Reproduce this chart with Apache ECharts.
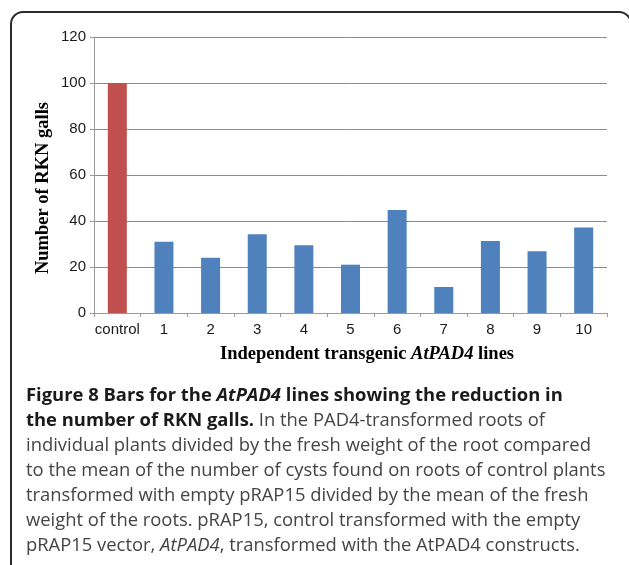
<!DOCTYPE html>
<html>
<head>
<meta charset="utf-8">
<script src="https://cdn.jsdelivr.net/npm/echarts@6/dist/echarts.min.js"></script>
<style>
	html, body { margin: 0; padding: 0; background: #fff; }
	#page { position: relative; width: 629px; height: 565px; overflow: hidden; }
	#frame {
		position: absolute; left: 10px; top: 11px; width: 618px; height: 600px;
		border: 2px solid #2b2b2b; border-radius: 13px;
	}
	#chart { position: absolute; left: 0; top: 0; width: 629px; height: 565px; }
	#caption {
		position: absolute; left: 26px; top: 381px;
		font-family: "Open Sans", sans-serif; font-size: 18.4px; line-height: 25px;
		color: #444; white-space: nowrap;
	}
	#caption b { color: #1a1a1a; }
</style>
</head>
<body>
<div id="page">
	<div id="frame"></div>
	<div id="chart"></div>
	<div id="caption">
		<b>Figure 8 Bars for the <i>AtPAD4</i> lines showing the reduction in</b><br>
		<b>the number of RKN galls.</b> In the PAD4-transformed roots of<br>
		individual plants divided by the fresh weight of the root compared<br>
		to the mean of the number of cysts found on roots of control plants<br>
		transformed with empty pRAP15 divided by the mean of the fresh<br>
		weight of the roots. pRAP15, control transformed with the empty<br>
		pRAP15 vector, <i>AtPAD4</i>, transformed with the AtPAD4 constructs.
	</div>
</div>
<script>
	const categories = ['control', '1', '2', '3', '4', '5', '6', '7', '8', '9', '10'];
	const galls = [100, 31, 24, 34.2, 29.5, 21, 44.8, 11.3, 31.3, 26.8, 37.2];
	const yMin = 0;
	const yMax = 120;
	const yStep = 20;

	const chart = echarts.init(document.getElementById('chart'));
	chart.setOption({
		animation: false,
		grid: { left: 94, right: 22, top: 37, bottom: 252 },
		xAxis: {
			type: 'category',
			data: categories,
			axisLine: { lineStyle: { color: '#9a9a9a', width: 1 } },
			axisTick: { show: true, interval: 0, length: 4, lineStyle: { color: '#9a9a9a' } },
			axisLabel: {
				interval: 0,
				margin: 9,
				fontFamily: 'Liberation Sans',
				fontSize: 15,
				color: '#1a1a1a'
			}
		},
		yAxis: {
			type: 'value',
			min: yMin,
			max: yMax,
			interval: yStep,
			axisLine: { show: true, lineStyle: { color: '#9a9a9a', width: 1 } },
			axisTick: { show: true, length: 4, lineStyle: { color: '#9a9a9a' } },
			splitLine: { lineStyle: { color: '#8c8c8c', width: 1 } },
			axisLabel: {
				margin: 8,
				fontFamily: 'Liberation Sans',
				fontSize: 15,
				color: '#1a1a1a'
			}
		},
		series: [{
			type: 'bar',
			data: galls,
			barWidth: 19,
			itemStyle: {
				color: (p) => p.dataIndex === 0 ? '#C0504D' : '#4F81BD'
			}
		}],
		graphic: [
			{
				type: 'text',
				x: 43,
				y: 188,
				rotation: Math.PI / 2,
				style: {
					text: 'Number of RKN galls',
					fontFamily: 'Liberation Serif',
					fontWeight: 'bold',
					fontSize: 18.5,
					fill: '#000',
					align: 'center',
					verticalAlign: 'middle'
				}
			},
			{
				type: 'text',
				x: 367,
				y: 354,
				style: {
					text: '{b|Independent transgenic }{i|AtPAD4}{b| lines}',
					align: 'center',
					verticalAlign: 'middle',
					rich: {
						b: { fontFamily: 'Liberation Serif', fontWeight: 'bold', fontSize: 18.5, fill: '#000' },
						i: { fontFamily: 'Liberation Serif', fontWeight: 'bold', fontStyle: 'italic', fontSize: 18.5, fill: '#000' }
					}
				}
			}
		]
	});
</script>
</body>
</html>
